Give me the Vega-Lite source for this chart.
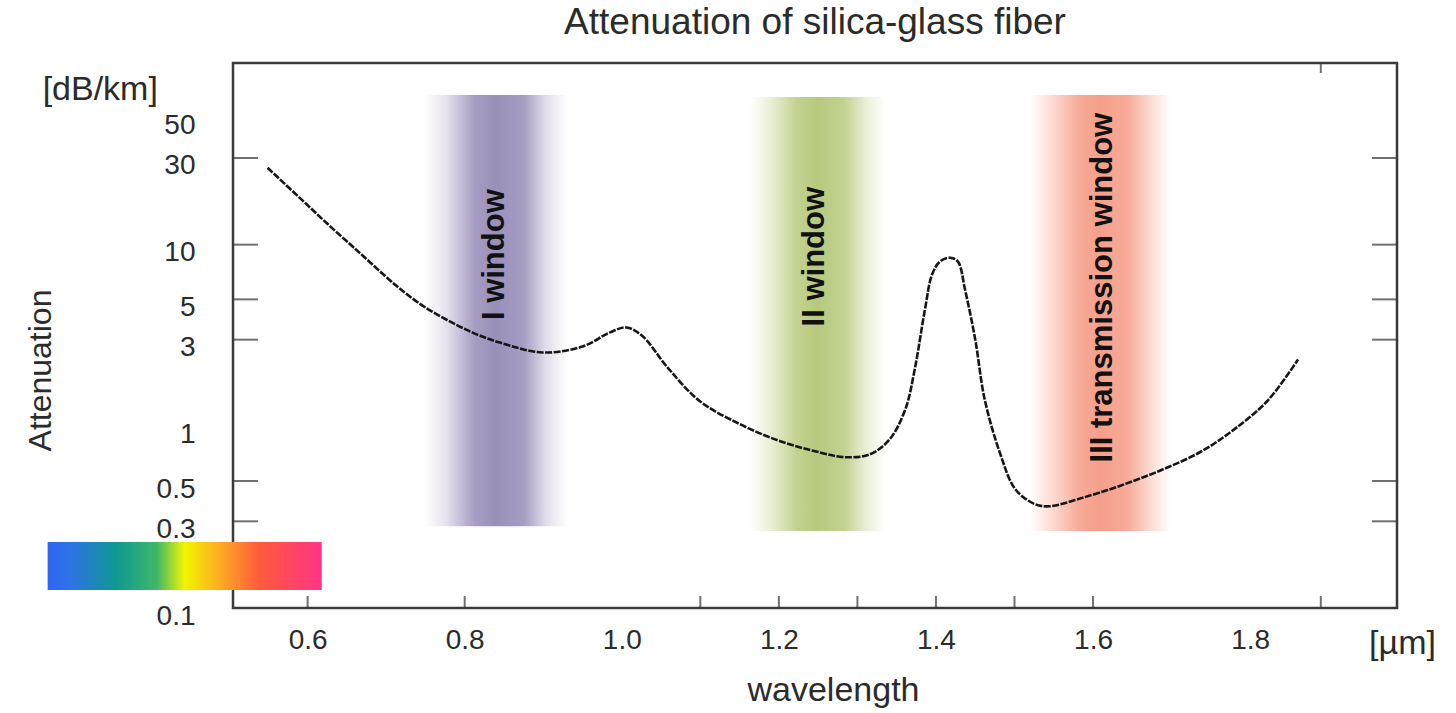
{
  "$schema": "https://vega.github.io/schema/vega-lite/v6.json",
  "width": 1164,
  "height": 545,
  "autosize": {"type": "none"},
  "padding": {"left": 233, "top": 63, "right": 59, "bottom": 105},
  "background": "#ffffff",
  "config": {
    "font": "Liberation Sans",
    "view": {"stroke": "#3a3a3a", "strokeWidth": 2.5},
    "axis": {"grid": false, "ticks": false, "domain": false, "labelColor": "#2b2b2b", "titleColor": "#2b2b2b", "labelFont": "Liberation Sans", "titleFont": "Liberation Sans", "titleFontWeight": "normal"}
  },
  "title": {"text": "Attenuation of silica-glass fiber", "fontSize": 37, "fontWeight": "normal", "color": "#2b2b2b", "frame": "group", "anchor": "middle", "baseline": "alphabetic", "offset": -8},
  "encoding": {
    "x": {"field": "x", "type": "quantitative", "title": "wavelength",
      "scale": {"domain": [0.505, 1.987], "nice": false, "zero": false},
      "axis": {"values": [0.6, 0.8, 1.0, 1.2, 1.4, 1.6, 1.8], "format": ".1f", "labelFontSize": 28, "labelPadding": 18, "labelOverlap": false, "labelFlush": false, "titleFontSize": 34, "titleX": 600, "titleY": 82, "titleBaseline": "middle"}},
    "y": {"field": "y", "type": "quantitative", "title": "Attenuation",
      "scale": {"type": "log", "domain": [0.1, 100], "nice": false},
      "axis": {"values": [0.1, 0.3, 0.5, 1, 3, 5, 10, 30, 50], "format": "~g", "labelFontSize": 28, "labelPadding": 38, "labelOffset": 8, "labelOverlap": false, "labelFlush": false, "titleFontSize": 32, "titleX": -193, "titleY": 307, "titleBaseline": "middle", "titleAlign": "center", "titleAngle": 270}}
  },
  "layer": [
    {
      "data": {"values": [{"x": 0.749, "x2": 0.93, "y": 66.7, "y2": 0.282}]},
      "mark": {"type": "rect", "color": {"gradient": "linear", "x1": 0, "x2": 1, "y1": 0, "y2": 0, "stops": [
        {"offset": 0, "color": "#ffffff"}, {"offset": 0.15, "color": "#e6e2ee"}, {"offset": 0.35, "color": "#a79dc3"}, {"offset": 0.5, "color": "#9a8fb9"}, {"offset": 0.7, "color": "#a79dc3"}, {"offset": 0.85, "color": "#e0dcea"}, {"offset": 1, "color": "#ffffff"}]}},
      "encoding": {"x2": {"field": "x2"}, "y2": {"field": "y2"}}
    },
    {
      "data": {"values": [{"x": 1.163, "x2": 1.335, "y": 65, "y2": 0.265}]},
      "mark": {"type": "rect", "color": {"gradient": "linear", "x1": 0, "x2": 1, "y1": 0, "y2": 0, "stops": [
        {"offset": 0, "color": "#ffffff"}, {"offset": 0.15, "color": "#eaf0d8"}, {"offset": 0.35, "color": "#c2d290"}, {"offset": 0.5, "color": "#b7c97f"}, {"offset": 0.7, "color": "#c2d290"}, {"offset": 0.85, "color": "#e8eed4"}, {"offset": 1, "color": "#ffffff"}]}},
      "encoding": {"x2": {"field": "x2"}, "y2": {"field": "y2"}}
    },
    {
      "data": {"values": [{"x": 1.52, "x2": 1.698, "y": 66.7, "y2": 0.265}]},
      "mark": {"type": "rect", "color": {"gradient": "linear", "x1": 0, "x2": 1, "y1": 0, "y2": 0, "stops": [
        {"offset": 0, "color": "#ffffff"}, {"offset": 0.15, "color": "#fcdcd4"}, {"offset": 0.35, "color": "#f7ab98"}, {"offset": 0.5, "color": "#f59f8b"}, {"offset": 0.7, "color": "#f7ab98"}, {"offset": 0.85, "color": "#fbd8cf"}, {"offset": 1, "color": "#ffffff"}]}},
      "encoding": {"x2": {"field": "x2"}, "y2": {"field": "y2"}}
    },
    {
      "data": {"values": [{"x": 0.269, "x2": 0.618, "y": 0.2307, "y2": 0.1256}]},
      "mark": {"type": "rect", "color": {"gradient": "linear", "x1": 0, "x2": 1, "y1": 0, "y2": 0, "stops": [
        {"offset": 0, "color": "#2f66f5"}, {"offset": 0.08, "color": "#2f72e6"}, {"offset": 0.25, "color": "#0f9890"}, {"offset": 0.4, "color": "#40b868"}, {"offset": 0.5, "color": "#f2f500"}, {"offset": 0.62, "color": "#fcb022"}, {"offset": 0.77, "color": "#ff5c3a"}, {"offset": 0.9, "color": "#ff4466"}, {"offset": 1, "color": "#ff3585"}]}},
      "encoding": {"x2": {"field": "x2"}, "y2": {"field": "y2"}}
    },
    {
      "data": {"values": [
        {"x": 0.549, "y": 26.5}, {"x": 0.59, "y": 18.1}, {"x": 0.628, "y": 12.7}, {"x": 0.666, "y": 9.04},
        {"x": 0.698, "y": 6.76}, {"x": 0.7236, "y": 5.45}, {"x": 0.75, "y": 4.51}, {"x": 0.781, "y": 3.78},
        {"x": 0.813, "y": 3.24}, {"x": 0.845, "y": 2.89}, {"x": 0.899, "y": 2.55},
        {"x": 0.95, "y": 2.75}, {"x": 0.985, "y": 3.29}, {"x": 1.006, "y": 3.5}, {"x": 1.027, "y": 3.12},
        {"x": 1.057, "y": 2.14}, {"x": 1.099, "y": 1.38}, {"x": 1.15, "y": 1.03}, {"x": 1.201, "y": 0.83},
        {"x": 1.252, "y": 0.719}, {"x": 1.284, "y": 0.676}, {"x": 1.316, "y": 0.702}, {"x": 1.341, "y": 0.848},
        {"x": 1.361, "y": 1.24}, {"x": 1.373, "y": 2.06}, {"x": 1.386, "y": 4.4}, {"x": 1.395, "y": 6.84},
        {"x": 1.405, "y": 8.07}, {"x": 1.418, "y": 8.48}, {"x": 1.428, "y": 8.07}, {"x": 1.437, "y": 5.66},
        {"x": 1.45, "y": 3.01}, {"x": 1.462, "y": 1.41}, {"x": 1.482, "y": 0.702}, {"x": 1.501, "y": 0.451},
        {"x": 1.526, "y": 0.373}, {"x": 1.545, "y": 0.363}, {"x": 1.583, "y": 0.4}, {"x": 1.634, "y": 0.47},
        {"x": 1.685, "y": 0.57}, {"x": 1.736, "y": 0.72}, {"x": 1.778, "y": 0.95}, {"x": 1.822, "y": 1.38},
        {"x": 1.861, "y": 2.33}
      ]},
      "mark": {"type": "line", "interpolate": "catmull-rom", "color": "#161616", "strokeWidth": 2.6, "strokeDash": [7, 1.5]}
    },
    {
      "data": {"values": [
        {"x": 0.838, "y": 8.81, "label": "I window"},
        {"x": 1.246, "y": 8.59, "label": "II window"},
        {"x": 1.613, "y": 5.8, "label": "III transmission window"}
      ]},
      "mark": {"type": "text", "angle": 270, "align": "center", "baseline": "middle", "fontSize": 31, "fontWeight": "bold", "color": "#111111"},
      "encoding": {"text": {"field": "label"}}
    },
    {
      "data": {"values": [
        {"x": 0.336, "y": 71, "label": "[dB/km]"},
        {"x": 1.994, "y": 0.0634, "label": "[µm]"}
      ]},
      "mark": {"type": "text", "align": "center", "baseline": "middle", "fontSize": 34, "color": "#2b2b2b"},
      "encoding": {"text": {"field": "label"}}
    },
    {
      "data": {"values": [
        {"x": 0.6, "y": 0.1}, {"x": 0.8, "y": 0.1}, {"x": 1.1, "y": 0.1}, {"x": 1.2, "y": 0.1}, {"x": 1.3, "y": 0.1},
        {"x": 1.4, "y": 0.1}, {"x": 1.5, "y": 0.1}, {"x": 1.6, "y": 0.1}, {"x": 1.89, "y": 0.1}
      ]},
      "mark": {"type": "tick", "orient": "vertical", "size": 12, "thickness": 2, "yOffset": -6, "color": "#333333"}
    },
    {
      "data": {"values": [{"x": 1.89, "y": 100}]},
      "mark": {"type": "tick", "orient": "vertical", "size": 10, "thickness": 2, "yOffset": 5, "color": "#333333"}
    },
    {
      "data": {"values": [
        {"x": 0.505, "y": 30}, {"x": 0.505, "y": 10}, {"x": 0.505, "y": 5}, {"x": 0.505, "y": 3}, {"x": 0.505, "y": 0.5}, {"x": 0.505, "y": 0.3}
      ]},
      "mark": {"type": "tick", "orient": "horizontal", "size": 25, "thickness": 2, "xOffset": 12.5, "color": "#333333"}
    },
    {
      "data": {"values": [
        {"x": 1.987, "y": 30}, {"x": 1.987, "y": 10}, {"x": 1.987, "y": 5}, {"x": 1.987, "y": 3}, {"x": 1.987, "y": 0.5}, {"x": 1.987, "y": 0.3}
      ]},
      "mark": {"type": "tick", "orient": "horizontal", "size": 25, "thickness": 2, "xOffset": -12.5, "color": "#333333"}
    }
  ]
}
